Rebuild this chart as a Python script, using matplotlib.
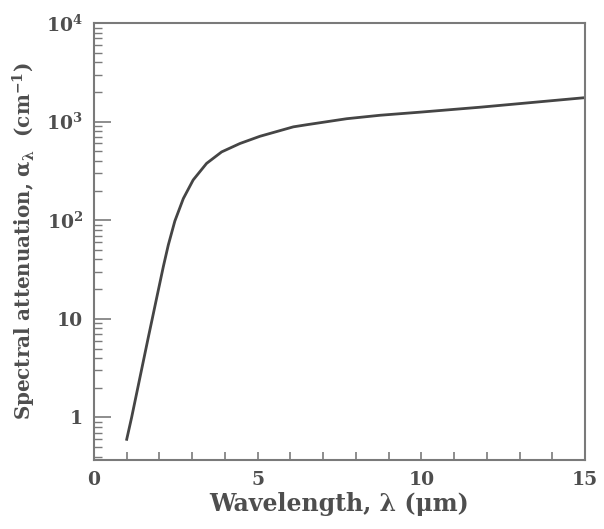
import matplotlib
matplotlib.use("Agg")
import matplotlib.pyplot as plt
from matplotlib.ticker import FixedLocator, FixedFormatter, LogLocator, MultipleLocator, NullFormatter

# wavelength (um) vs spectral attenuation (1/cm)
wavelength = [1.0, 1.15, 1.66, 1.78, 1.91, 2.12, 2.27, 2.47, 2.73, 3.03,
              3.44, 3.90, 4.46, 5.07, 6.09, 6.5, 7.72, 8.74, 10.0, 11.8, 15.0]
attenuation = [0.6, 1.0, 6.5, 10, 16, 34, 56, 98, 166, 256,
               377, 493, 600, 710, 885, 930, 1070, 1160, 1250, 1400, 1750]

y_ticks = [1, 10, 100, 1000, 10000]
y_tick_labels = ["1", "10", r"$10^2$", r"$10^3$", r"$10^4$"]
x_ticks = [0, 5, 10, 15]

plt.rcParams["font.family"] = ["DejaVu Serif"]
plt.rcParams["font.weight"] = "bold"
plt.rcParams["mathtext.fontset"] = "custom"
plt.rcParams["mathtext.rm"] = "DejaVu Serif:bold"
plt.rcParams["mathtext.it"] = "DejaVu Serif:bold"
plt.rcParams["mathtext.bf"] = "DejaVu Serif:bold"

text_color = "#4e4e4e"
spine_color = "#7a7a7a"

fig = plt.figure(figsize=(6.04, 5.29), dpi=100)
ax = fig.add_axes([0.1556, 0.1304, 0.8129, 0.8261])

ax.plot(wavelength, attenuation, color="#454545", linewidth=2.0,
        solid_joinstyle="round")

ax.set_yscale("log")
ax.set_xlim(0, 15)
ax.set_ylim(0.37, 1e4)

ax.yaxis.set_major_locator(FixedLocator(y_ticks))
ax.yaxis.set_major_formatter(FixedFormatter(y_tick_labels))
ax.yaxis.set_minor_locator(LogLocator(base=10, subs=range(2, 10), numticks=20))
ax.yaxis.set_minor_formatter(NullFormatter())
ax.xaxis.set_major_locator(FixedLocator(x_ticks))
ax.xaxis.set_minor_locator(MultipleLocator(1))

for spine in ax.spines.values():
    spine.set_color(spine_color)
    spine.set_linewidth(1.5)

ax.tick_params(axis="y", which="major", direction="in", length=12, width=1.2,
               color=spine_color, pad=8, labelsize=13.5, labelcolor=text_color)
ax.tick_params(axis="y", which="minor", direction="in", length=6, width=1.0,
               color=spine_color)
ax.tick_params(axis="x", which="both", direction="in", length=6, width=1.2,
               color=spine_color, pad=8, labelsize=13.5, labelcolor=text_color)
ax.tick_params(top=False, right=False, which="both")

ax.set_xlabel("Wavelength, λ (μm)", fontsize=17, color=text_color,
              fontweight="bold", labelpad=2)
ax.set_ylabel(r"Spectral attenuation, α$_{λ}$  (cm$^{-1}$)", fontsize=14.3,
              color=text_color, fontweight="bold", labelpad=6)

fig.savefig("out.png", dpi=100)
